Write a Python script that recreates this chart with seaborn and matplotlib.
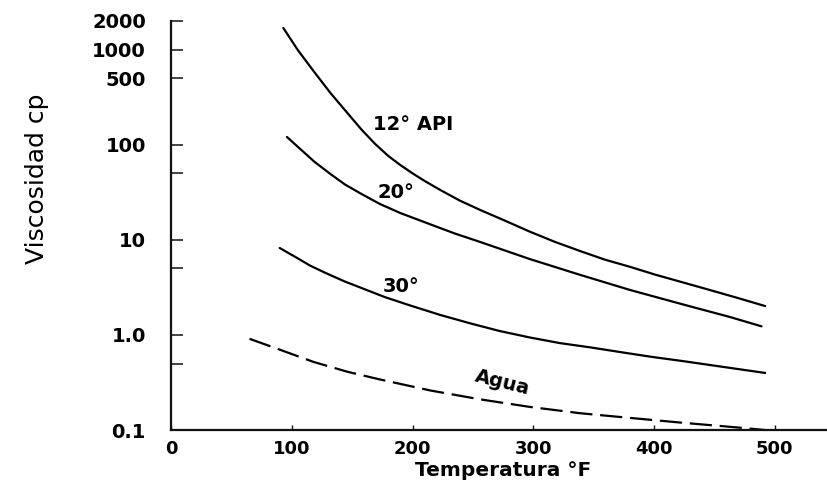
import numpy as np
import pandas as pd

import seaborn as sns
import matplotlib.pyplot as plt
from matplotlib.ticker import FixedLocator, NullFormatter

sns.set_style('ticks')
plt.rcParams['font.family'] = ['DejaVu Sans']
plt.rcParams['text.color'] = 'black'
plt.rcParams['axes.labelcolor'] = 'black'
plt.rcParams['xtick.color'] = 'black'
plt.rcParams['ytick.color'] = 'black'

# curvas (temperatura en F, viscosidad en cp)
temp_12 = [93, 105, 118, 132, 146, 158, 169, 180, 190, 200, 210, 223, 239, 256,
           277, 297, 318, 339, 359, 380, 401, 424, 446, 471, 492]
visc_12 = [1690, 990, 596, 350, 216, 143, 102, 76, 61, 50, 41.6, 33.4, 25.9, 20.6,
           15.8, 12.2, 9.5, 7.6, 6.2, 5.2, 4.3, 3.56, 2.97, 2.41, 2.01]

temp_20 = [96, 107, 119, 132, 144, 157, 173, 190, 215, 235, 256, 297, 339, 380,
           424, 463, 489]
visc_20 = [120.6, 90.2, 65.8, 49.2, 38.2, 30.7, 23.8, 19.1, 14.5, 11.65, 9.49,
           6.28, 4.27, 2.97, 2.09, 1.54, 1.23]

temp_30 = [90, 103, 115, 128, 144, 161, 177, 198, 223, 248, 272, 297, 322, 347,
           372, 397, 424, 455, 492]
visc_30 = [8.2, 6.6, 5.37, 4.48, 3.64, 3.0, 2.5, 2.04, 1.62, 1.32, 1.1, 0.94,
           0.82, 0.74, 0.66, 0.59, 0.53, 0.465, 0.398]

temp_agua = [65, 90, 118, 146, 173, 215, 256, 297, 339, 380, 424, 463, 492]
visc_agua = [0.91, 0.70, 0.52, 0.41, 0.34, 0.26, 0.21, 0.175, 0.15, 0.134, 0.119,
             0.108, 0.1]

yticks_major = [0.1, 1, 10, 100, 500, 1000, 2000]
yticks_labels = ['0.1', '1.0', '10', '100', '500', '1000', '2000']
yticks_minor = [0.5, 5, 50]
xticks = [0, 100, 200, 300, 400, 500]

df = pd.concat([
    pd.DataFrame({'temp': temp_12, 'visc': visc_12, 'curva': '12'}),
    pd.DataFrame({'temp': temp_20, 'visc': visc_20, 'curva': '20'}),
    pd.DataFrame({'temp': temp_30, 'visc': visc_30, 'curva': '30'}),
    pd.DataFrame({'temp': temp_agua, 'visc': visc_agua, 'curva': 'Agua'}),
], ignore_index=True)

fig = plt.figure(figsize=(8.28, 4.83), dpi=100)
ax = fig.add_axes([171 / 828, 1 - 430 / 483, 1 - 171 / 828, 409 / 483])

palette = {'12': 'black', '20': 'black', '30': 'black', 'Agua': 'black'}
dashes = {'12': '', '20': '', '30': '', 'Agua': (10, 3.5)}
sns.lineplot(data=df, x='temp', y='visc', hue='curva', style='curva',
             palette=palette, dashes=dashes, estimator=None, sort=False,
             lw=1.6, legend=False, ax=ax, clip_on=False)

ax.set_yscale('log')
ax.set_ylim(0.1, 2000)
ax.set_xlim(0, 544)

ax.yaxis.set_major_locator(FixedLocator(yticks_major))
ax.set_yticklabels(yticks_labels)
ax.yaxis.set_minor_locator(FixedLocator(yticks_minor))
ax.yaxis.set_minor_formatter(NullFormatter())
ax.set_xticks(xticks)

sns.despine(ax=ax)
for side in ['left', 'bottom']:
    ax.spines[side].set_linewidth(1.6)
    ax.spines[side].set_color('#111111')

ax.tick_params(axis='y', which='both', direction='in', length=8.5, width=1.1,
               pad=18, labelsize=14, color='#111111')
ax.tick_params(axis='x', direction='in', length=3.5, width=1.0, pad=7,
               labelsize=13, color='#111111')
for lab in ax.get_xticklabels() + ax.get_yticklabels():
    lab.set_fontweight('bold')

ax.set_xlabel('Temperatura °F', fontsize=14.5, fontweight='bold')
ax.xaxis.set_label_coords(0.506, -0.075)
ax.set_ylabel('Viscosidad cp', fontsize=18)
ax.yaxis.set_label_coords(-0.186, 0.614)

ax.text(167, 162, '12° API', fontsize=14, fontweight='bold', va='center', ha='left')
ax.text(171, 31.3, '20°', fontsize=14, fontweight='bold', va='center', ha='left')
ax.text(175, 3.2, '30°', fontsize=14, fontweight='bold', va='center', ha='left')
ax.text(274, 0.313, 'Agua', fontsize=14, fontweight='bold', va='center', ha='center',
        rotation=-14, rotation_mode='anchor')

fig.savefig('out.png', dpi=100)
